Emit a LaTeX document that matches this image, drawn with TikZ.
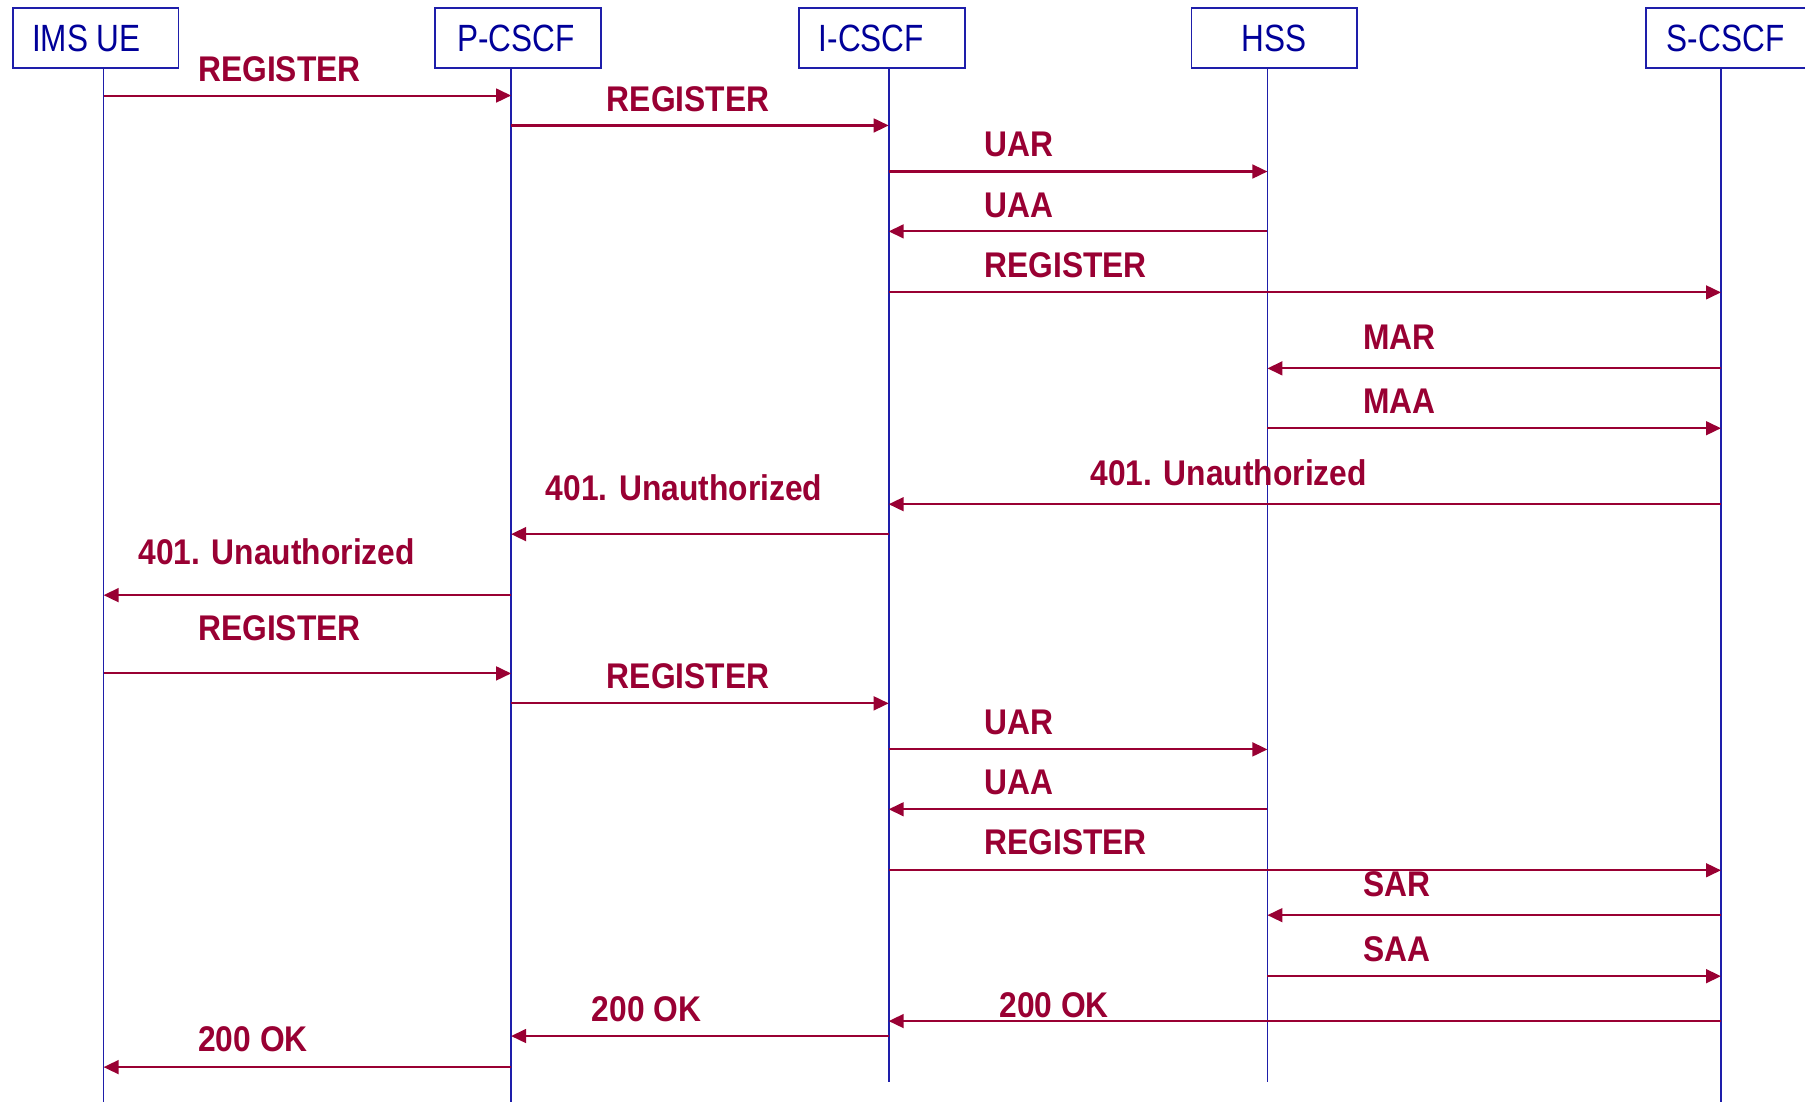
\documentclass[tikz,border=0pt]{standalone}
\usepackage{fontspec}
\usetikzlibrary{arrows.meta}
\newfontfamily\lblfont[FakeStretch=0.89]{Liberation Sans}
\newfontfamily\boxfont[FakeStretch=0.83]{Liberation Sans}
\definecolor{crim}{RGB}{153,0,51}
\definecolor{navy}{RGB}{0,0,153}
\definecolor{lifeblue}{RGB}{30,30,170}
\tikzset{
  entity/.style={draw=lifeblue, line width=1.6pt, minimum width=144pt, minimum height=52pt, inner sep=0pt},
  entitytext/.style={inner sep=0pt, text=navy, font=\boxfont\fontsize{33}{33}\selectfont},
  life/.style={draw=lifeblue, line width=1.4pt},
  msg/.style={draw=crim, line width=1.8pt, -{Triangle[length=13pt,width=12pt]}},
  lbl/.style={anchor=base west, inner sep=0pt, text=crim, font=\lblfont\bfseries\fontsize{31}{31}\selectfont}
}
\begin{document}
\begin{tikzpicture}[x=1pt,y=-1pt]
\clip (0,0) rectangle (1568,957);
\fill[white] (0,0) rectangle (1568,957);
% entities
\node[entity] (ue)  at (83,33)   {};
\node[entity] (pc)  at (450,33)  {};
\node[entity] (ic)  at (766,33)  {};
\node[entity] (hss) at (1107,33) {};
\node[entity] (sc)  at (1502,33) {};
\node[entitytext] (ueX)  at ([xshift=-8pt]ue.center)  {IMS UE};
\node[entitytext] (pcX)  at ([xshift=-2pt]pc.center)  {P-CSCF};
\node[entitytext] (icX)  at ([xshift=-9pt]ic.center)  {I-CSCF};
\node[entitytext] (hssX) at (hss.center)              {HSS};
\node[entitytext] (scX)  at ([xshift=-3pt]sc.center)  {S-CSCF};
% lifelines
\coordinate (ueT) at (90,59);    \coordinate (ueB) at (90,957);
\coordinate (pcT) at (444,59);   \coordinate (pcB) at (444,957);
\coordinate (icT) at (772,59);   \coordinate (icB) at (772,940);
\coordinate (hsT) at (1101,59);  \coordinate (hsB) at (1101,940);
\coordinate (scT) at (1495,59);  \coordinate (scB) at (1495,957);
\draw[life] (ueT) -- (ueB);
\draw[life] (pcT) -- (pcB);
\draw[life] (icT) -- (icB);
\draw[life] (hsT) -- (hsB);
\draw[life] (scT) -- (scB);
% messages
\draw[msg] (ueT |- 0,83)  -- (pcT |- 0,83);
\draw[msg] (pcT |- 0,109) -- (icT |- 0,109);
\draw[msg] (icT |- 0,149) -- (hsT |- 0,149);
\draw[msg] (hsT |- 0,201) -- (icT |- 0,201);
\draw[msg] (icT |- 0,254) -- (scT |- 0,254);
\draw[msg] (scT |- 0,320) -- (hsT |- 0,320);
\draw[msg] (hsT |- 0,372) -- (scT |- 0,372);
\draw[msg] (scT |- 0,438) -- (icT |- 0,438);
\draw[msg] (icT |- 0,464) -- (pcT |- 0,464);
\draw[msg] (pcT |- 0,517) -- (ueT |- 0,517);
\draw[msg] (ueT |- 0,585) -- (pcT |- 0,585);
\draw[msg] (pcT |- 0,611) -- (icT |- 0,611);
\draw[msg] (icT |- 0,651) -- (hsT |- 0,651);
\draw[msg] (hsT |- 0,703) -- (icT |- 0,703);
\draw[msg] (icT |- 0,756) -- (scT |- 0,756);
\draw[msg] (scT |- 0,795) -- (hsT |- 0,795);
\draw[msg] (hsT |- 0,848) -- (scT |- 0,848);
\draw[msg] (scT |- 0,887) -- (icT |- 0,887);
\draw[msg] (icT |- 0,900) -- (pcT |- 0,900);
\draw[msg] (pcT |- 0,927) -- (ueT |- 0,927);
% labels
\node[lbl] (l1)  at (172,71)  {REGISTER};
\node[lbl] (l2)  at (527,97)  {REGISTER};
\node[lbl] (l3)  at (855,136) {UAR};
\node[lbl] (l4)  at (855,189) {UAA};
\node[lbl] (l5)  at (855,241) {REGISTER};
\node[lbl] (l6)  at (1184,304) {MAR};
\node[lbl] (l7)  at (1184,359) {MAA};
\node[lbl] (l8)  at (947,422) {401. Unauthorized};
\node[lbl] (l9)  at (474,435) {401. Unauthorized};
\node[lbl] (l10) at (120,490) {401. Unauthorized};
\node[lbl] (l11) at (172,556) {REGISTER};
\node[lbl] (l12) at (527,598) {REGISTER};
\node[lbl] (l13) at (855,638) {UAR};
\node[lbl] (l14) at (855,690) {UAA};
\node[lbl] (l15) at (855,742) {REGISTER};
\node[lbl] (l16) at (1184,779) {SAR};
\node[lbl] (l17) at (1184,835) {SAA};
\node[lbl] (l18) at (868,884) {200 OK};
\node[lbl] (l19) at (514,887) {200 OK};
\node[lbl] (l20) at (172,913) {200 OK};
\end{tikzpicture}
\end{document}
